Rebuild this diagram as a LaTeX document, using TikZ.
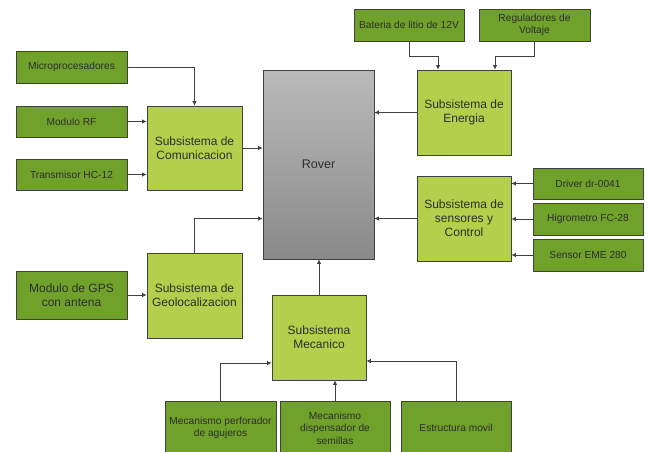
\documentclass[tikz,border=0pt]{standalone}
\usepackage{fontspec}
\setmainfont{Liberation Sans}
\usetikzlibrary{arrows.meta}
\definecolor{dkgreen}{HTML}{70A12A}
\definecolor{ltgreen}{HTML}{B3CF4B}
\definecolor{edge}{HTML}{404040}
\definecolor{txt}{HTML}{2E2E2E}
\tikzset{
  base/.style={draw=edge, line width=0.8pt, inner sep=1pt, align=center, text=txt},
  dg/.style={base, fill=dkgreen, font=\fontsize{10.2}{12.5}\selectfont},
  dgbig/.style={base, fill=dkgreen, font=\fontsize{12}{14}\selectfont},
  lg/.style={base, fill=ltgreen, font=\fontsize{12}{14}\selectfont},
  rov/.style={base, top color=black!27, bottom color=black!46, font=\fontsize{12.5}{14}\selectfont},
  arr/.style={draw=edge, line width=0.8pt, -{Latex[length=4.5pt,width=4.5pt]}}
}
\begin{document}
\begin{tikzpicture}[x=1pt,y=-1pt]
\useasboundingbox (0,0) rectangle (650,451);
\clip (0,0) rectangle (650,451);
\fill[white] (0,0) rectangle (650,451);
% left column
\node[dg, minimum width=111pt, minimum height=32pt] (micro) at (71.5,67) {Microprocesadores};
\node[dg, minimum width=111pt, minimum height=31pt] (rf) at (71.5,121.5) {Modulo RF};
\node[dg, minimum width=111pt, minimum height=31pt] (hc) at (71.5,174.5) {Transmisor HC-12};
\node[dgbig, minimum width=111pt, minimum height=48pt] (gps) at (71.5,295) {Modulo de GPS\\con antena};
% subsystems
\node[lg, minimum width=95pt, minimum height=84pt] (com) at (194.5,148) {Subsistema de\\Comunicacion};
\node[lg, minimum width=95pt, minimum height=85pt] (geo) at (194.5,295.5) {Subsistema de\\Geolocalizacion};
\node[lg, minimum width=94pt, minimum height=85pt] (ene) at (464,112.5) {Subsistema de\\Energia};
\node[lg, minimum width=94pt, minimum height=85pt] (sen) at (464,218.5) {Subsistema de\\sensores y\\Control};
\node[lg, minimum width=94pt, minimum height=85pt] (mec) at (319,337.5) {Subsistema\\Mecanico};
% rover
\node[rov, minimum width=111pt, minimum height=189pt] (rover) at (318.5,164.5) {Rover};
% top
\node[dg, minimum width=110pt, minimum height=32pt] (bat) at (409,25) {Bateria de litio de 12V};
\node[dg, minimum width=111pt, minimum height=32pt] (reg) at (534.5,25) {Reguladores de\\Voltaje};
% right
\node[dg, minimum width=110pt, minimum height=31pt] (drv) at (588,183.5) {Driver dr-0041};
\node[dg, minimum width=110pt, minimum height=32pt] (hig) at (588,219) {Higrometro FC-28};
\node[dg, minimum width=110pt, minimum height=32pt] (eme) at (588,255) {Sensor EME 280};
% bottom
\node[dg, minimum width=111pt, minimum height=54pt] (perf) at (220.5,428) {Mecanismo perforador\\de agujeros};
\node[dg, minimum width=110pt, minimum height=54pt] (disp) at (335,428) {Mecanismo\\dispensador de\\semillas};
\node[dg, minimum width=110pt, minimum height=54pt] (est) at (456,428) {Estructura movil};
% connectors
\draw[arr] (micro.east) -| (com.north);
\draw[arr] (rf.east) -- (rf.east -| com.west);
\draw[arr] (hc.east) -- (hc.east -| com.west);
\draw[arr] (com.east) -- (com.east -| rover.west);
\draw[arr] (bat.south) -- ++(0,15) -| ([xshift=-26pt]ene.north);
\draw[arr] (reg.south) -- ++(0,15) -| ([xshift=31pt]ene.north);
\draw[arr] (ene.west) -- (ene.west -| rover.east);
\draw[arr] (drv.west) -- (drv.west -| sen.east);
\draw[arr] (hig.west) -- (hig.west -| sen.east);
\draw[arr] (eme.west) -- (eme.west -| sen.east);
\draw[arr] (sen.west) -- (sen.west -| rover.east);
\draw[arr] (geo.north) |- (rover.west |- sen.west);
\draw[arr] (gps.east) -- (gps.east -| geo.west);
\draw[arr] (mec.north) -- (mec.north |- rover.south);
\draw[arr] (perf.north) |- ([yshift=-25.5pt]mec.west);
\draw[arr] (disp.north) -- (disp.north |- mec.south);
\draw[arr] (est.north) |- ([yshift=-23.5pt]mec.east);
\end{tikzpicture}
\end{document}
